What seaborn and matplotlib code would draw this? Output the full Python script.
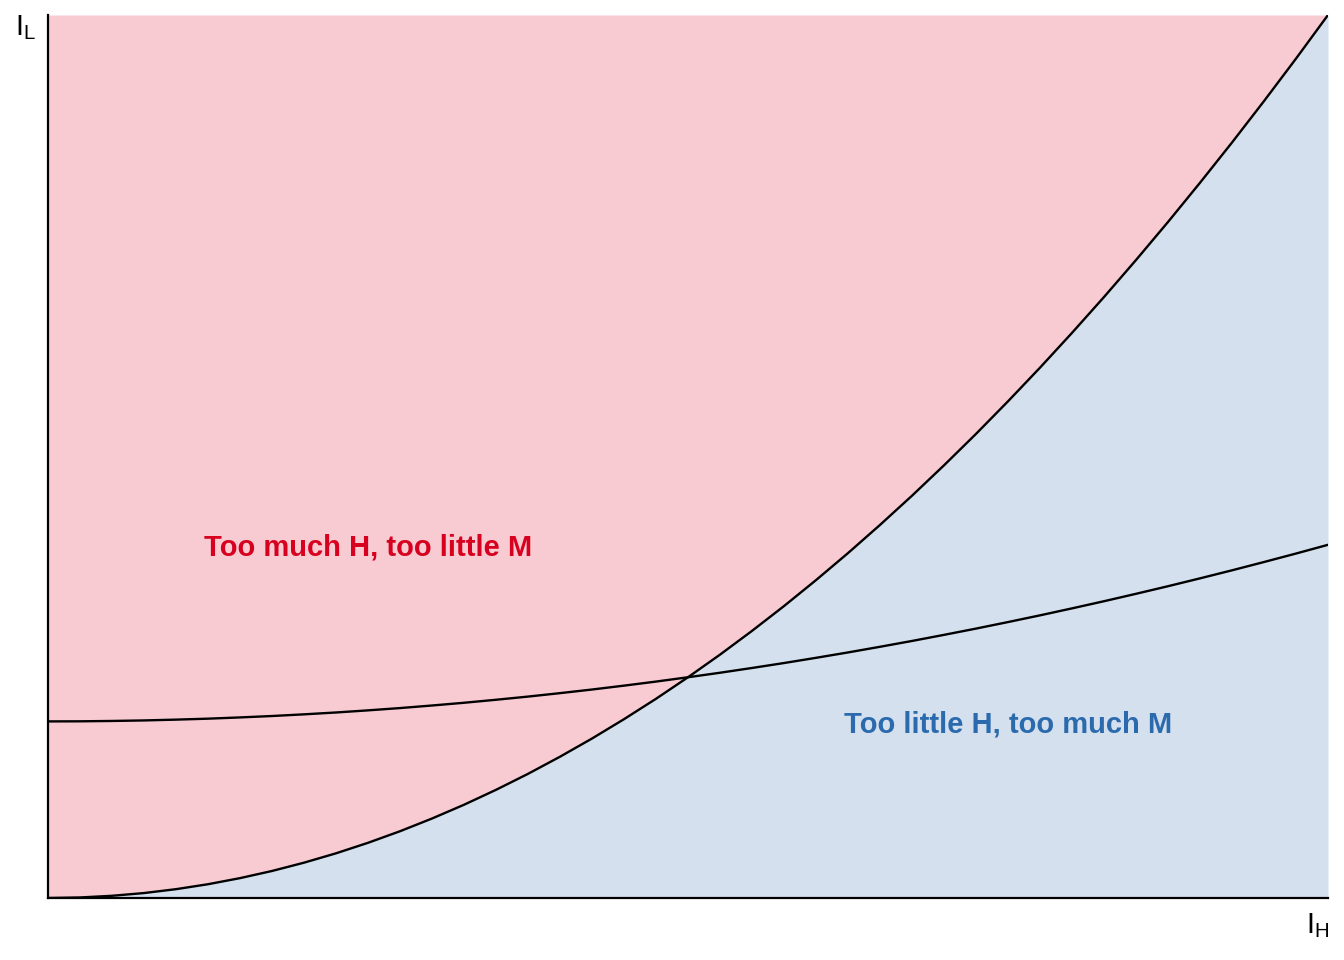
import numpy as np
import pandas as pd
import matplotlib
matplotlib.use("Agg")
import matplotlib.pyplot as plt
import seaborn as sns

i_h = [0.0, 0.025, 0.05, 0.075, 0.10, 0.125, 0.15, 0.175, 0.20, 0.225,
       0.25, 0.275, 0.30, 0.325, 0.35, 0.375, 0.40, 0.425, 0.45, 0.475,
       0.50, 0.525, 0.55, 0.575, 0.60, 0.625, 0.65, 0.675, 0.70, 0.725,
       0.75, 0.775, 0.80, 0.825, 0.85, 0.875, 0.90, 0.925, 0.95, 0.975, 1.0]
# steep boundary curve (separates the two regions)
boundary = [0.0, 0.0006, 0.0025, 0.0056, 0.01, 0.0156, 0.0225, 0.0306, 0.04, 0.0506,
            0.0625, 0.0756, 0.09, 0.1056, 0.1225, 0.1406, 0.16, 0.1806, 0.2025, 0.2256,
            0.25, 0.2756, 0.3025, 0.3306, 0.36, 0.3906, 0.4225, 0.4556, 0.49, 0.5256,
            0.5625, 0.6006, 0.64, 0.6806, 0.7225, 0.7656, 0.81, 0.8556, 0.9025, 0.9506, 1.0]
# flat curve
flat = [0.2, 0.2001, 0.2005, 0.2011, 0.202, 0.2031, 0.2045, 0.2061, 0.208, 0.2101,
        0.2125, 0.2151, 0.218, 0.2211, 0.2245, 0.2281, 0.232, 0.2361, 0.2405, 0.2451,
        0.25, 0.2551, 0.2605, 0.2661, 0.272, 0.2781, 0.2845, 0.2911, 0.298, 0.3051,
        0.3125, 0.3201, 0.328, 0.3361, 0.3445, 0.3531, 0.362, 0.3711, 0.3805, 0.3901, 0.4]

region_labels = ["Too much H, too little M", "Too little H, too much M"]
label_x = [0.25, 0.75]
label_y = [0.397, 0.197]

pink = "#F8CBD3"
blue = "#D4E0EE"
red_text = "#D7001F"
blue_text = "#2B6BAD"

sns.set_style("white")
plt.rcParams["font.family"] = ["Liberation Sans", "DejaVu Sans"]
plt.rcParams["mathtext.fontset"] = "custom"
plt.rcParams["mathtext.rm"] = "Liberation Sans"

df = pd.DataFrame({"i_h": i_h, "boundary": boundary, "flat": flat})

fig = plt.figure(figsize=(13.44, 9.6), dpi=100)
ax = fig.add_axes([48 / 1344, 1 - 898 / 960, 1280 / 1344, 883 / 960])

ax.fill_between(df["i_h"], df["boundary"], 1.0, color=pink, lw=0)
ax.fill_between(df["i_h"], 0.0, df["boundary"], color=blue, lw=0)

sns.lineplot(data=df, x="i_h", y="boundary", ax=ax, color="black", lw=1.7, estimator=None)
sns.lineplot(data=df, x="i_h", y="flat", ax=ax, color="black", lw=1.7, estimator=None)

ax.text(label_x[0], label_y[0], region_labels[0], color=red_text, fontsize=21,
        fontweight="bold", ha="center", va="center")
ax.text(label_x[1], label_y[1], region_labels[1], color=blue_text, fontsize=21,
        fontweight="bold", ha="center", va="center")

ax.set_xlim(0, 1)
ax.set_ylim(0, 1)
ax.set_xticks([])
ax.set_yticks([])
ax.set_xlabel("")
ax.set_ylabel("")
sns.despine(ax=ax)
for side in ["left", "bottom"]:
    ax.spines[side].set_linewidth(1.6)
    ax.spines[side].set_color("black")

fig.text(25 / 1344, 1 - 28 / 960, r"$\mathregular{I_L}$", fontsize=21, color="black",
         ha="center", va="center")
fig.text(1318 / 1344, 1 - 926 / 960, r"$\mathregular{I_H}$", fontsize=21, color="black",
         ha="center", va="center")

fig.savefig("out.png", dpi=100)
